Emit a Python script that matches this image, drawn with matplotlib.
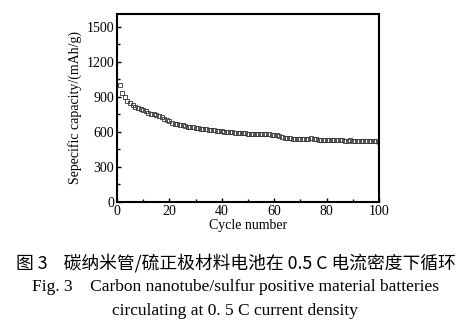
import numpy as np
import matplotlib.pyplot as plt
from matplotlib.ticker import MultipleLocator

# discharge capacity per cycle, mAh/g
cycles = np.arange(1, 101)
capacity = [1000, 935, 895, 865, 845, 830, 815, 805, 795, 785,
            775, 765, 757, 750, 742, 735, 725, 712, 700, 690,
            680, 672, 665, 660, 655, 650, 646, 642, 638, 635,
            632, 629, 626, 623, 620, 617, 614, 611, 608, 605,
            603, 601, 599, 597, 595, 593, 591, 590, 588, 586,
            585, 584, 583, 582, 581, 583, 586, 580, 575, 572,
            570, 566, 560, 548, 545, 544, 543, 542, 541, 540,
            539, 538, 540, 545, 538, 536, 535, 534, 533, 532,
            531, 530, 529, 528, 530, 527, 526, 525, 527, 524,
            523, 522, 524, 521, 520, 520, 519, 522, 518, 517]

plt.rcParams['font.family'] = ['Liberation Serif', 'Noto Sans CJK SC']
fig = plt.figure(figsize=(4.71, 3.32), dpi=100)
ax = fig.add_axes([0.2484, 0.3916, 0.5563, 0.5663])

ax.plot(cycles, capacity, 's', markersize=3.4, markerfacecolor='none',
        markeredgecolor='#333333', markeredgewidth=0.6)

ax.set_xlim(0, 100)
ax.set_ylim(0, 1610)
ax.xaxis.set_major_locator(MultipleLocator(20))
ax.xaxis.set_minor_locator(MultipleLocator(10))
ax.yaxis.set_major_locator(MultipleLocator(300))
ax.yaxis.set_minor_locator(MultipleLocator(150))
ax.tick_params(which='both', direction='in', labelsize=10, width=1.0, pad=2)
ax.tick_params(which='major', length=3)
ax.tick_params(which='minor', length=2)
for s in ax.spines.values():
    s.set_linewidth(1.5)
ax.set_xlabel('Cycle number', fontsize=10, labelpad=1)
ax.set_ylabel('Sepecific capacity/(mAh/g)', fontsize=10, labelpad=3)

fig.text(0.5, 0.208, '图 3    碳纳米管/硫正极材料电池在 0.5 C 电流密度下循环',
         ha='center', va='center', fontsize=12.8, fontweight='medium',
         family=['Noto Sans CJK SC', 'DejaVu Sans'])
fig.text(0.5, 0.136, 'Fig. 3    Carbon nanotube/sulfur positive material batteries',
         ha='center', va='center', fontsize=12.5)
fig.text(0.5, 0.063, 'circulating at 0. 5 C current density',
         ha='center', va='center', fontsize=12.5)

fig.savefig('out.png', dpi=100)
